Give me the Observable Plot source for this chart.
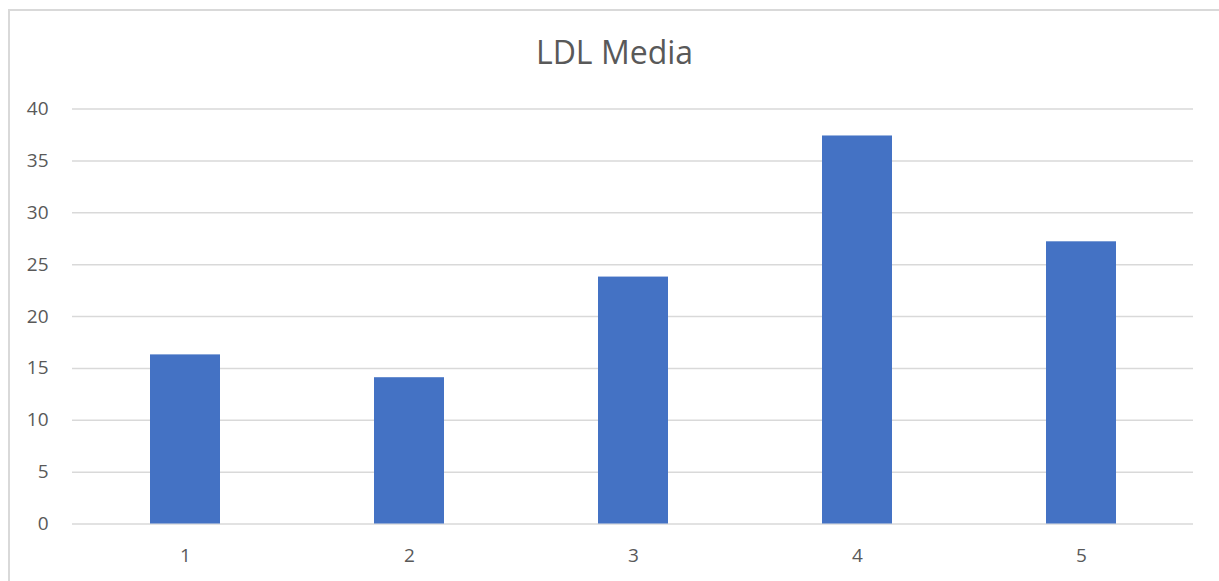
<!DOCTYPE html>
<html>
<head>
<meta charset="utf-8">
<script src="https://cdn.jsdelivr.net/npm/d3@7"></script>
<script src="https://cdn.jsdelivr.net/npm/@observablehq/plot@0.6"></script>
<style>
  html, body { margin: 0; padding: 0; background: #fff; overflow: hidden; }
  #frame {
    position: absolute; left: 8px; top: 9px;
    width: 1230px; height: 600px;
    border: 2px solid #d9d9d9; box-sizing: border-box;
  }
  #chart { position: absolute; left: 0; top: 0; width: 1219px; }
  #title {
    height: 80px; line-height: 104px; text-align: center;
    font-family: "Open Sans", sans-serif; font-size: 32px; color: #595959;
    padding-left: 10px;
  }
  #chart svg text { font-size: 19px; }
</style>
</head>
<body>
<div id="frame"></div>
<div id="chart">
  <div id="title">LDL Media</div>
</div>
<script>
// Mean LDL per group
const groups = [1, 2, 3, 4, 5];
const ldlMean = [16.3, 14.1, 23.8, 37.4, 27.2];
const yTicks = [0, 5, 10, 15, 20, 25, 30, 35, 40];

const rows = groups.map((g, i) => ({group: g, value: ldlMean[i]}));

const chart = Plot.plot({
  width: 1219,
  height: 501,
  marginLeft: 72,
  marginRight: 26,
  marginTop: 28.5,
  marginBottom: 57.5,
  style: {fontFamily: "Open Sans, sans-serif", fontSize: "19px", color: "#595959", background: "transparent"},
  x: {type: "band", domain: groups, paddingInner: 0.688, paddingOuter: 0.344, label: null},
  y: {domain: [0, 40], label: null},
  marks: [
    Plot.gridY(yTicks, {stroke: "#d9d9d9", strokeOpacity: 1, strokeWidth: 1.5}),
    Plot.barY(rows, {x: "group", y: "value", fill: "#4472c4"}),
    Plot.axisY(yTicks, {tickSize: 0, tickPadding: 24, fill: "#595959"}),
    Plot.axisX({tickSize: 0, tickPadding: 24, fill: "#595959"})
  ]
});
document.getElementById("chart").appendChild(chart);
</script>
</body>
</html>
